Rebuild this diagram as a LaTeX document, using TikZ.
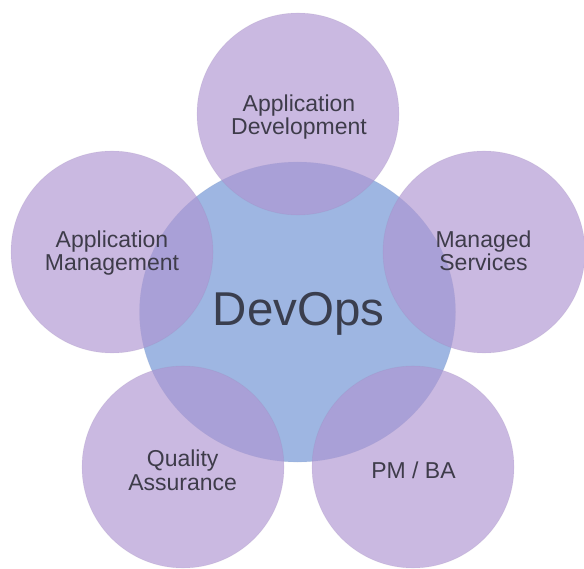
\documentclass[tikz,border=0pt]{standalone}
\usepackage{fontspec}
\setmainfont{Liberation Sans}
\usetikzlibrary{shapes.geometric}
\definecolor{petalfill}{RGB}{176,150,210}
\definecolor{corefill}{RGB}{158,182,226}
\definecolor{ink}{RGB}{62,60,74}
\definecolor{coreink}{RGB}{58,62,78}
\begin{document}
\begin{tikzpicture}[x=1pt,y=-1pt,
  petalcircle/.style={circle, minimum size=202pt, inner sep=0pt, fill=petalfill, fill opacity=0.66,
    draw=petalfill!80!black, draw opacity=0.15, line width=0.6pt},
  corecircle/.style={ellipse, minimum width=316pt, minimum height=300pt, inner sep=0pt, fill=corefill,
    draw=corefill!85!black, draw opacity=0.2, line width=0.6pt},
  petaltext/.style={text=ink, align=center, inner sep=0pt, font=\fontsize{23}{23.3}\selectfont},
  coretext/.style={text=coreink, inner sep=0pt, font=\fontsize{47.5}{50}\selectfont}]
\useasboundingbox (0,0) rectangle (584,569);
\fill[white] (0,0) rectangle (584,569);
\node[corecircle] (core) at (297.5,312) {};
\node[petalcircle] (dev) at (298,114) {};
\node[petalcircle] (mgmt) at (112,252) {};
\node[petalcircle] (svc) at (484,252) {};
\node[petalcircle] (qa) at (183,467) {};
\node[petalcircle] (pm) at (413,467) {};
\node[coretext, anchor=base] (devops) at (298.5,325.7) {DevOps};
\node[petaltext] (devtxt) at (299,117.4) {Application\\Development};
\node[petaltext] (mgmttxt) at (112,252.8) {Application\\Management};
\node[petaltext] (svctxt) at (483.5,250.5) {Managed\\Services};
\node[petaltext] (qatxt) at (182.7,470.2) {Quality\\Assurance};
\node[petaltext, anchor=base] (pmtxt) at (413.5,478) {PM / BA};
\end{tikzpicture}
\end{document}
